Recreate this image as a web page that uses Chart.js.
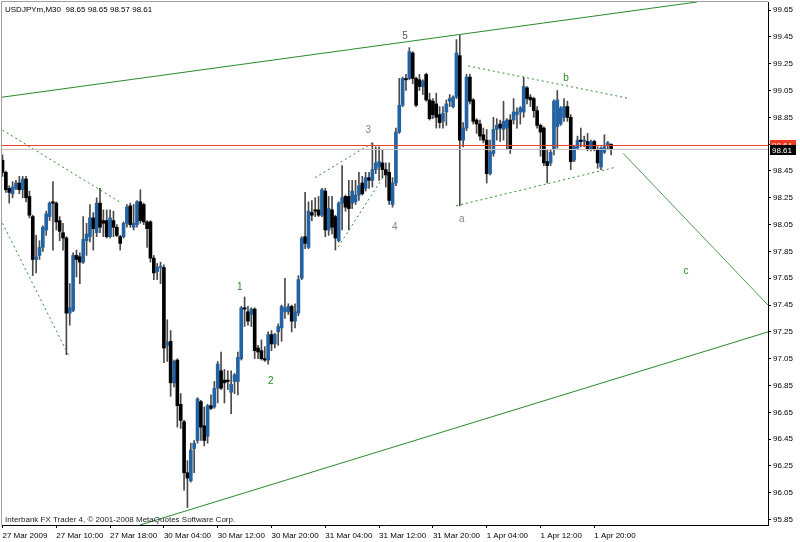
<!DOCTYPE html>
<html><head><meta charset="utf-8">
<script src="https://cdn.jsdelivr.net/npm/chart.js@4.4.1/dist/chart.umd.min.js"></script>
<style>html,body{margin:0;padding:0;background:#fff;overflow:hidden}#wrap{width:800px;height:542px}</style>
</head><body><div id="wrap"><canvas id="c" width="800" height="542"></canvas></div>
<script>
// ---- DATA (USDJPYm M30, bar by bar) ----
const opens = [98.53,98.44,98.32,98.28,98.32,98.36,98.31,98.39,98.26,98.11,97.79,97.82,97.88,98.01,98.11,98.22,98.21,98.08,97.99,97.95,
97.39,97.41,97.82,97.81,97.77,97.93,97.96,98.10,97.99,98.21,98.08,98.08,97.96,98.08,98.03,97.96,97.96,98.06,98.19,98.03,
98.05,98.22,98.20,98.07,98.07,97.80,97.70,97.73,97.73,97.15,97.18,96.87,97.04,96.71,96.58,96.20,96.14,96.38,96.44,96.73,
96.55,96.47,96.70,96.69,96.83,96.96,96.89,96.89,96.80,96.88,96.88,97.05,97.43,97.40,97.38,97.42,97.13,97.11,97.05,97.04,
97.23,97.16,97.25,97.28,97.40,97.40,97.44,97.33,97.39,97.65,97.96,97.88,98.14,98.16,98.16,98.12,98.30,98.01,98.16,98.11,
97.93,98.21,98.26,98.26,98.21,98.22,98.27,98.36,98.32,98.40,98.38,98.46,98.48,98.51,98.46,98.44,98.20,98.36,98.74,98.94,
99.14,99.14,99.33,99.14,99.13,99.08,99.17,98.98,98.97,98.95,98.87,98.82,98.89,98.97,98.93,99.00,99.31,98.68,98.77,99.15,
98.98,98.83,98.80,98.72,98.68,98.43,98.58,98.76,98.80,98.76,98.77,98.83,98.83,98.87,98.89,98.89,99.07,99.00,98.99,98.90,
98.79,98.77,98.52,98.51,98.61,98.78,98.80,98.85,98.93,98.85,98.53,98.62,98.68,98.67,98.67,98.61,98.67,98.61,98.48,98.59,
98.64,98.65];
const highs = [98.57,98.45,98.34,98.37,98.38,98.41,98.41,98.41,98.30,98.12,97.97,97.93,98.04,98.15,98.22,98.37,98.22,98.11,98.06,97.96,
97.61,97.84,97.86,97.84,98.11,98.06,98.20,98.14,98.25,98.32,98.16,98.16,98.16,98.15,98.05,97.97,98.07,98.20,98.21,98.20,
98.23,98.31,98.21,98.08,98.08,97.82,97.76,97.77,97.75,97.34,97.26,97.04,97.05,96.79,96.59,96.29,96.42,96.44,96.76,96.74,
96.69,96.71,96.78,96.88,97.03,97.10,96.97,96.96,96.96,96.94,97.10,97.44,97.51,97.44,97.43,97.43,97.15,97.19,97.14,97.25,
97.26,97.24,97.31,97.45,97.65,97.46,97.45,97.46,97.67,97.96,98.29,98.22,98.23,98.25,98.26,98.32,98.32,98.26,98.26,98.12,
98.22,98.49,98.27,98.38,98.38,98.38,98.44,98.41,98.44,98.44,98.66,98.63,98.63,98.61,98.51,98.51,98.40,98.77,99.14,99.15,
99.17,99.37,99.34,99.15,99.17,99.13,99.18,99.03,98.99,99.03,98.93,98.93,98.98,99.02,99.01,99.43,99.46,98.81,99.17,99.17,
98.99,98.84,98.83,98.77,98.76,98.68,98.85,98.84,98.83,98.97,98.84,98.87,98.99,98.92,98.93,99.15,99.08,99.02,99.00,98.93,
98.80,98.78,98.61,98.61,98.98,99.05,98.93,98.99,98.97,98.87,98.64,98.71,98.77,98.71,98.73,98.68,98.68,98.63,98.63,98.72,
98.67,98.65];
const lows = [98.41,98.29,98.21,98.25,98.31,98.28,98.25,98.22,98.10,97.67,97.69,97.79,97.85,97.97,98.08,97.86,98.01,97.93,97.86,97.08,
97.30,97.40,97.66,97.61,97.76,97.82,97.92,97.86,97.96,97.99,97.96,97.95,97.95,97.96,97.96,97.86,97.95,98.03,98.03,98.01,
98.03,98.06,98.05,97.88,97.77,97.64,97.64,97.61,97.02,97.03,96.77,96.84,96.54,96.53,96.07,95.94,96.13,96.20,96.42,96.44,
96.40,96.42,96.67,96.68,96.72,96.82,96.72,96.82,96.64,96.79,96.78,97.04,97.29,97.30,97.29,97.05,97.05,97.04,97.03,97.01,
97.11,97.13,97.15,97.18,97.35,97.38,97.25,97.28,97.37,97.64,97.87,97.87,98.08,98.11,98.11,98.11,97.96,97.97,97.98,97.86,
97.92,98.01,98.15,98.01,98.17,98.20,98.23,98.27,98.30,98.32,98.33,98.43,98.38,98.40,98.33,98.20,98.18,98.34,98.73,98.93,
99.05,99.13,99.10,98.93,99.05,99.02,98.97,98.83,98.84,98.77,98.77,98.77,98.79,98.93,98.92,98.99,98.19,98.63,98.75,98.95,
98.80,98.73,98.68,98.66,98.36,98.42,98.56,98.68,98.67,98.68,98.61,98.58,98.80,98.77,98.80,98.85,98.95,98.93,98.85,98.77,
98.56,98.49,98.36,98.49,98.57,98.62,98.79,98.82,98.82,98.46,98.52,98.61,98.63,98.63,98.60,98.60,98.60,98.47,98.46,98.58,
98.61,98.57];
const closes = [98.44,98.31,98.29,98.33,98.36,98.31,98.39,98.25,98.12,97.79,97.81,97.88,98.03,98.13,98.21,98.21,98.07,98.00,97.95,97.39,
97.43,97.82,97.79,97.77,97.94,97.98,98.10,98.02,98.21,98.03,98.06,97.96,98.10,98.03,97.97,97.91,98.06,98.18,98.05,98.06,
98.22,98.08,98.07,98.02,97.80,97.69,97.73,97.74,97.13,97.17,96.87,97.03,96.70,96.59,96.20,96.16,96.37,96.42,96.75,96.54,
96.44,96.70,96.68,96.83,97.01,96.83,96.87,96.88,96.86,96.93,97.06,97.43,97.42,97.33,97.42,97.11,97.10,97.05,97.04,97.23,
97.16,97.23,97.29,97.44,97.43,97.44,97.33,97.40,97.64,97.95,97.91,98.15,98.12,98.15,98.12,98.31,98.01,98.17,98.03,97.95,
98.21,98.25,98.18,98.17,98.30,98.27,98.34,98.28,98.40,98.38,98.46,98.51,98.52,98.46,98.42,98.23,98.36,98.74,98.94,99.14,
99.13,99.34,99.14,98.94,99.08,99.12,98.98,98.84,98.87,98.85,98.81,98.88,98.95,98.99,99.00,99.33,98.68,98.77,99.15,98.97,
98.82,98.80,98.71,98.68,98.43,98.59,98.76,98.79,98.77,98.82,98.83,98.61,98.89,98.89,98.92,99.08,98.99,98.98,98.90,98.79,
98.74,98.51,98.49,98.59,98.97,98.98,98.92,98.93,98.85,98.52,98.63,98.68,98.67,98.68,98.61,98.67,98.61,98.51,98.62,98.63,
98.66,98.61];
const yTickValues = [99.65,99.45,99.25,99.05,98.85,98.65,98.45,98.25,98.05,97.85,97.65,97.45,97.25,97.05,96.85,96.65,96.45,96.25,96.05,95.85];
const xTickBars = [0,16,32,48,64,80,96,112,128,144,160,176];
const xTickLabels = ['27 Mar 2009','27 Mar 10:00','27 Mar 18:00','30 Mar 04:00','30 Mar 12:00','30 Mar 20:00','31 Mar 04:00','31 Mar 12:00','31 Mar 20:00','1 Apr 04:00','1 Apr 12:00','1 Apr 20:00'];
const bidPrice = 98.61, askPrice = 98.64;
const titleText = 'USDJPYm,M30  98.65 98.65 98.57 98.61';
const copyrightText = 'Interbank FX Trader 4, \u00A9 2001-2008 MetaQuotes Software Corp.';

// ---- drawn objects (bar index, price) ----
const GREEN = '#228b22', DOT = '#2f8f2f', GREY = '#7d8a7d';
const trendLines = [
  {a:[-0.15,99.00], b:[206.5,99.71], color:'#2a8a2a', dash:[]},
  {a:[40.9,95.81], b:[227.66,97.25], color:'#2a8a2a', dash:[]},
  {a:[0,98.755], b:[35.45,98.21], color:DOT, dash:[2,3]},
  {a:[0,98.06], b:[19.78,97.07], color:DOT, dash:[2,3]},
  {a:[92.94,98.40], b:[110.1,98.66], color:DOT, dash:[2,3]},
  {a:[99.87,97.885], b:[113.25,98.407], color:DOT, dash:[2,3]},
  {a:[138.5,99.233], b:[186.1,98.992], color:DOT, dash:[2,3]},
  {a:[134.9,98.19], b:[182.2,98.477], color:DOT, dash:[2,3]},
  {a:[184.6,98.581], b:[227.66,97.45], color:'#4f9a4f', dash:[]}
];
const waveLabels = [
  {t:'1', bar:70.6, p:97.58, c:GREEN},
  {t:'2', bar:79.8, p:96.88, c:GREEN},
  {t:'3', bar:108.8, p:98.755, c:GREY},
  {t:'4', bar:116.7, p:98.034, c:GREY},
  {t:'5', bar:119.7, p:99.456, c:'#505a50'},
  {t:'a', bar:136.6, p:98.09, c:GREY},
  {t:'b', bar:167.6, p:99.145, c:GREEN},
  {t:'c', bar:203.3, p:97.70, c:GREEN}
];
const X_MIN = -0.149, X_MAX = 227.66, Y_MIN = 95.81, Y_MAX = 99.71;
const BULL = '#2263a3', BEAR = '#000000';

const FONT = '"Liberation Sans", Arial, sans-serif';
Chart.defaults.font.family = FONT;

const wickData = highs.map((h, i) => ({x: i, y: [lows[i], h]}));
const bodyData = opens.map((o, i) => ({x: i, y: [o, closes[i]]}));
const bodyColors = opens.map((o, i) => closes[i] > o ? BULL : BEAR);

const datasets = [
  {type:'line', data:[{x:X_MIN,y:askPrice},{x:X_MAX,y:askPrice}], borderColor:'#e8402c', borderWidth:1, pointRadius:0, order:0},
  {type:'line', data:[{x:X_MIN,y:bidPrice},{x:X_MAX,y:bidPrice}], borderColor:'#c4c4c4', borderWidth:1, pointRadius:0, order:0}
];
trendLines.forEach(l => datasets.push({type:'line', data:[{x:l.a[0],y:l.a[1]},{x:l.b[0],y:l.b[1]}],
  borderColor:l.color, borderWidth:1, borderDash:l.dash, pointRadius:0, order:0}));
datasets.push({type:'bar', data:bodyData, backgroundColor:bodyColors, barThickness:3, grouped:false, minBarLength:1, borderWidth:0, order:1});
datasets.push({type:'bar', data:wickData, backgroundColor:'#4a4a4a', barThickness:1, grouped:false, borderWidth:0, order:2});

const overlay = {
  id:'overlay',
  beforeDraw(chart){ const c=chart.ctx; c.save(); c.fillStyle='#fff'; c.fillRect(0,0,chart.width,chart.height); c.restore(); },
  afterDraw(chart){
    const {ctx, chartArea:a, scales:{x, y}} = chart;
    ctx.save();
    ctx.strokeStyle='#a0a0a0'; ctx.lineWidth=1;
    ctx.beginPath(); ctx.moveTo(a.left-0.5, a.bottom); ctx.lineTo(a.left-0.5, a.top-0.5); ctx.lineTo(a.right, a.top-0.5); ctx.stroke();
    ctx.font='10px '+FONT; ctx.textAlign='center'; ctx.textBaseline='middle';
    waveLabels.forEach(w => { ctx.fillStyle=w.c; ctx.fillText(w.t, x.getPixelForValue(w.bar), y.getPixelForValue(w.p)); });
    ctx.font='8px '+FONT; ctx.textAlign='left';
    const box = (v, bg) => { const py=Math.round(y.getPixelForValue(v)); ctx.fillStyle=bg; ctx.fillRect(a.right+2, py-5, 26, 10); ctx.fillStyle='#fff'; ctx.fillText(v.toFixed(2), a.right+4, py+0.5); };
    box(askPrice, '#f03a1e');
    box(bidPrice, '#000');
    ctx.fillStyle='#000';
    ctx.fillText(titleText, 5, 10);
    ctx.fillStyle='#222';
    ctx.fillText(copyrightText, 5, 520);
    ctx.restore();
  }
};

new Chart(document.getElementById('c'), {
  type:'bar',
  data:{datasets},
  options:{
    responsive:false, animation:false, devicePixelRatio:1, events:[],
    layout:{padding:{top:2, left:2, right:0, bottom:0}},
    plugins:{legend:{display:false}, tooltip:{enabled:false}, title:{display:false}},
    scales:{
      x:{type:'linear', position:'bottom', min:X_MIN, max:X_MAX, offset:false, bounds:'data',
        afterBuildTicks: s => { s.ticks = xTickBars.map(v => ({value:v})); },
        afterFit: s => { s.height = 17; s.paddingLeft = 0; s.paddingRight = 0; },
        ticks:{autoSkip:false, maxRotation:0, minRotation:0, align:'start', padding:3, color:'#000', font:{size:8, family:FONT},
          callback:(v, i) => xTickLabels[i]},
        grid:{drawOnChartArea:false, offset:false, tickLength:3, tickColor:'#000', color:'#000'},
        border:{display:true, color:'#000'}},
      y:{type:'linear', position:'right', min:Y_MIN, max:Y_MAX, bounds:'data',
        afterBuildTicks: s => { s.ticks = yTickValues.map(v => ({value:v})); },
        afterFit: s => { s.width = 32; s.paddingTop = 0; s.paddingBottom = 0; },
        ticks:{autoSkip:false, padding:2, color:'#000', font:{size:8, family:FONT}, callback: v => Number(v).toFixed(2)},
        grid:{drawOnChartArea:false, tickLength:3, tickColor:'#000', color:'#000'},
        border:{display:true, color:'#000'}}
    }
  },
  plugins:[overlay]
});
</script></body></html>
